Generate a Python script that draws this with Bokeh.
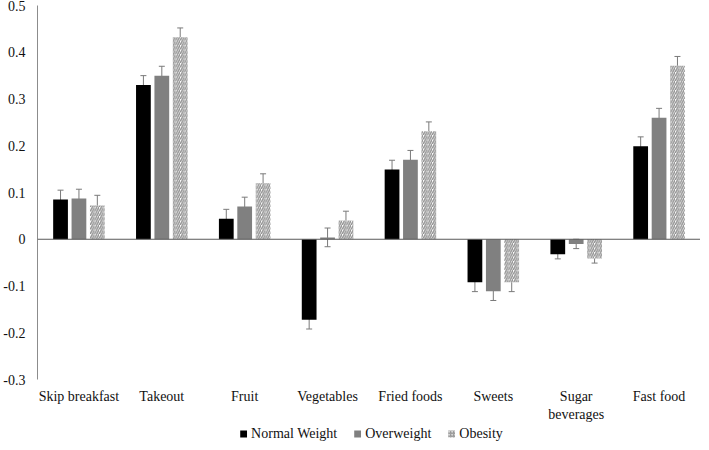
from bokeh.plotting import figure
from bokeh.layouts import column
from bokeh.models import (ColumnDataSource, FactorRange, Range1d, Span, Whisker, TeeHead,
                          Legend, LegendItem, FixedTicker, CustomJSTickFormatter)
from bokeh.transform import dodge
from bokeh.embed import file_html
from bokeh.resources import INLINE

categories = ["Skip breakfast", "Takeout", "Fruit", "Vegetables", "Fried foods",
              "Sweets", "Sugar\nbeverages", "Fast food"]
series_names = ["Normal Weight", "Overweight", "Obesity"]
normal = [0.085, 0.330, 0.044, -0.172, 0.149, -0.092, -0.032, 0.199]
overweight = [0.087, 0.350, 0.070, 0.004, 0.170, -0.111, -0.010, 0.260]
obesity = [0.072, 0.432, 0.120, 0.040, 0.231, -0.092, -0.041, 0.371]
err_normal = [0.02, 0.02, 0.02, 0.02, 0.02, 0.02, 0.01, 0.02]
err_overweight = [0.02, 0.02, 0.02, 0.02, 0.02, 0.02, 0.01, 0.02]
err_obesity = [0.022, 0.02, 0.02, 0.02, 0.02, 0.02, 0.01, 0.02]
y_ticks = [-0.3, -0.2, -0.1, 0, 0.1, 0.2, 0.3, 0.4, 0.5]

FONT = "Liberation Serif"
BLACK_FILL = dict(fill_color="black", line_color=None)
GRAY_FILL = dict(fill_color="#808080", line_color=None)
HATCH_FILL = dict(fill_color="white", line_color=None, hatch_pattern="/",
                  hatch_color="#8f8f8f", hatch_scale=4.5, hatch_weight=1.4)

xr = FactorRange(*categories, range_padding=0, factor_padding=0, group_padding=0)

p = figure(width=700, height=424, x_range=xr,
           y_range=Range1d(-0.3, 0.5), output_backend="svg", toolbar_location=None,
           min_border_top=5, min_border_right=0, min_border_left=0, min_border_bottom=0)
p.outline_line_color = None
p.xgrid.visible = False
p.ygrid.visible = False
p.background_fill_color = "white"
p.border_fill_color = "white"

# y axis
p.yaxis.ticker = FixedTicker(ticks=y_ticks)
p.yaxis.formatter = CustomJSTickFormatter(code="return Math.abs(tick) < 1e-9 ? '0' : tick.toFixed(1);")
p.yaxis.axis_line_color = "#8c8c8c"
p.yaxis.major_tick_line_color = None
p.yaxis.minor_tick_line_color = None
p.yaxis.major_tick_out = 0
p.yaxis.major_tick_in = 0
p.yaxis.axis_label_standoff = 0
p.yaxis.major_label_text_font = FONT
p.yaxis.major_label_text_font_size = "14px"
p.yaxis.major_label_text_color = "#111111"
p.yaxis.major_label_standoff = 12

# x axis
p.xaxis.axis_line_color = None
p.xaxis.major_tick_line_color = None
p.xaxis.minor_tick_line_color = None
p.xaxis.major_tick_out = 0
p.xaxis.major_tick_in = 0
p.xaxis.axis_label_standoff = 0
p.xaxis.major_label_text_font = FONT
p.xaxis.major_label_text_font_size = "14px"
p.xaxis.major_label_text_color = "#111111"
p.xaxis.major_label_standoff = 9

src = ColumnDataSource(dict(
    cat=categories,
    normal=normal, overweight=overweight, obesity=obesity,
    n_up=[v + e for v, e in zip(normal, err_normal)],
    n_lo=[v - e for v, e in zip(normal, err_normal)],
    o_up=[v + e for v, e in zip(overweight, err_overweight)],
    o_lo=[v - e for v, e in zip(overweight, err_overweight)],
    b_up=[v + e for v, e in zip(obesity, err_obesity)],
    b_lo=[v - e for v, e in zip(obesity, err_obesity)],
))

W = 0.178
OFF = 0.222

p.vbar(x=dodge("cat", -OFF, range=xr), top="normal", bottom=0, width=W, source=src, **BLACK_FILL)
p.vbar(x=dodge("cat", 0, range=xr), top="overweight", bottom=0, width=W, source=src, **GRAY_FILL)
p.vbar(x=dodge("cat", OFF, range=xr), top="obesity", bottom=0, width=W, source=src, **HATCH_FILL)

p.add_layout(Span(location=0, dimension="width", line_color="#5a5a5a", line_width=1))

for off, up, lo in [(-OFF, "n_up", "n_lo"), (0, "o_up", "o_lo"), (OFF, "b_up", "b_lo")]:
    w = Whisker(source=src, base=dodge("cat", off, range=xr), upper=up, lower=lo,
                line_color="#7a7a7a", line_width=1,
                upper_head=TeeHead(size=6, line_color="#7a7a7a", line_width=1),
                lower_head=TeeHead(size=6, line_color="#7a7a7a", line_width=1))
    p.add_layout(w)

# legend strip: same series drawn as square markers on a y range where they fall
# out of view, so only their legend entries show
q = figure(width=700, height=18, x_range=xr, y_range=Range1d(10, 11),
           output_backend="svg", toolbar_location=None,
           x_axis_location=None, y_axis_location=None,
           min_border_top=0, min_border_right=0, min_border_left=0, min_border_bottom=0)
q.outline_line_color = None
q.xgrid.visible = False
q.ygrid.visible = False
q.background_fill_color = "white"
q.border_fill_color = "white"
l1 = q.scatter(x=dodge("cat", -OFF, range=xr), y="normal", marker="square", size=7,
               source=src, **BLACK_FILL)
l2 = q.scatter(x=dodge("cat", 0, range=xr), y="overweight", marker="square", size=7,
               source=src, **GRAY_FILL)
l3 = q.scatter(x=dodge("cat", OFF, range=xr), y="obesity", marker="square", size=7,
               source=src, fill_color="white", line_color=None, hatch_pattern="/",
               hatch_color="#8f8f8f", hatch_scale=3, hatch_weight=1.2)

legend = Legend(items=[LegendItem(label=series_names[0], renderers=[l1]),
                       LegendItem(label=series_names[1], renderers=[l2]),
                       LegendItem(label=series_names[2], renderers=[l3])],
                orientation="horizontal", location="bottom_center",
                glyph_width=17, glyph_height=17, label_standoff=0, spacing=11,
                padding=0, margin=0, border_line_color=None, background_fill_alpha=0,
                label_text_font=FONT, label_text_font_size="14px",
                label_text_color="#111111", label_height=14)
q.add_layout(legend)

layout = column(p, q, spacing=0)
open("out.html", "w").write(file_html(layout, INLINE))
